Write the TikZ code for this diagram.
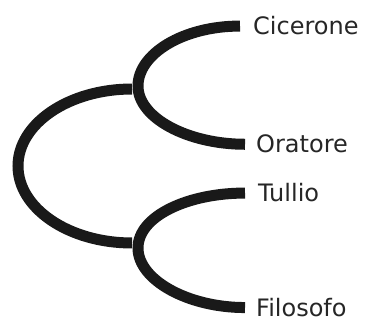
\documentclass[tikz,border=0pt]{standalone}
\usepackage{fontspec}
\setmainfont{DejaVu Sans}
\tikzset{>=stealth}
\tikzset{branch/.style={line width=11pt, black!90},
  leaf/.style={anchor=base west, inner sep=0pt, text=black!85,
    font=\fontsize{24}{28}\selectfont}}

\begin{document}
\begin{tikzpicture}[x=1pt,y=-1pt]
\useasboundingbox (0,0) rectangle (365,321);
\node[leaf] (ci) at (253,35) {Cicerone};
\node[leaf] (or) at (256,153) {Oratore};
\node[leaf] (tu) at (258,202) {Tullio};
\node[leaf] (fi) at (256,316.5) {Filosofo};
\coordinate (cie) at ([xshift=-13pt]ci.west);
\coordinate (ore) at ([xshift=-11pt]or.west);
\coordinate (tue) at ([xshift=-13pt]tu.west);
\coordinate (fie) at ([xshift=-11pt]fi.west);
\coordinate (up) at (138,86);
\coordinate (lo) at (138,248);
\coordinate (jt) at (132,89);
\coordinate (jb) at (132,243);
\coordinate (root) at (18,166);
% upper fork
\draw[branch] (cie) .. controls +(-57,0) and +(0,-32) .. (up)
  .. controls +(0,32) and +(-57,0) .. (ore);
% lower fork
\draw[branch] (tue) .. controls +(-57,0) and +(0,-32) .. (lo)
  .. controls +(0,32) and +(-57,0) .. (fie);
% root
\draw[branch] (jt) .. controls +(-63,0) and +(0,-42.5) .. (root)
  .. controls +(0,42.5) and +(-63,0) .. (jb);
\end{tikzpicture}
\end{document}
